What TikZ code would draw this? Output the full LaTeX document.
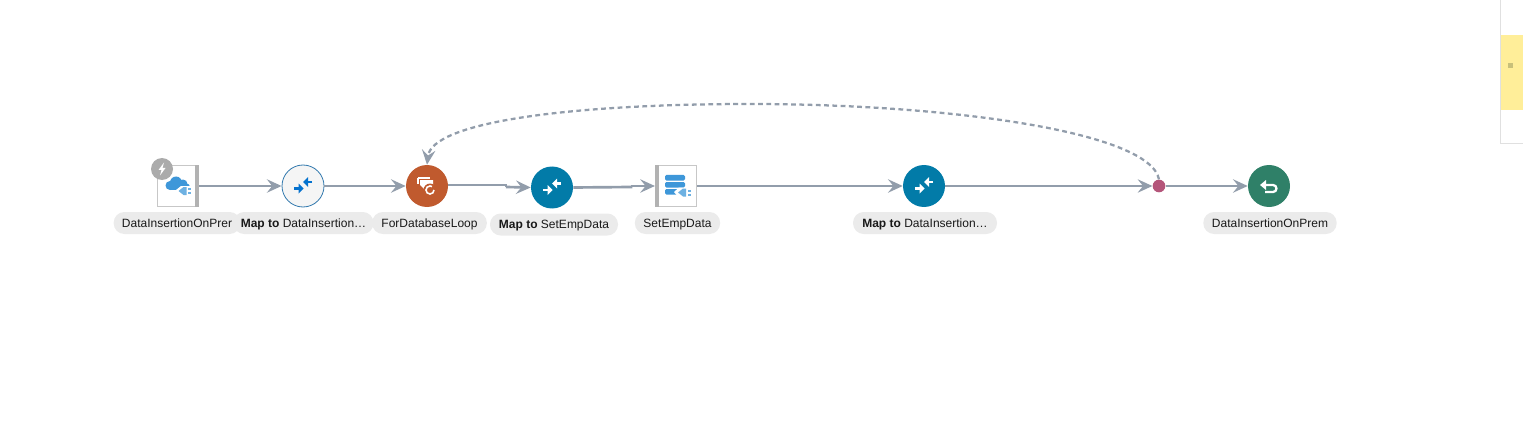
\documentclass[tikz,border=0pt]{standalone}
\usepackage{fontspec}
\setmainfont{Liberation Sans}
\usetikzlibrary{arrows.meta}

\definecolor{linegray}{HTML}{929DAB}
\definecolor{pillgray}{HTML}{EBEBEB}
\definecolor{mapblue}{HTML}{027BA8}
\definecolor{mapicon}{HTML}{0572CE}
\definecolor{iconblue}{HTML}{3E97D9}
\definecolor{loopred}{HTML}{C05A2E}
\definecolor{joinred}{HTML}{B4557A}
\definecolor{finishgreen}{HTML}{2F8068}

\tikzset{
  flowline/.style={line width=2pt, linegray, -{Stealth[inset=4pt,length=11pt,width=10pt]}},
  plainline/.style={line width=2pt, linegray},
  backline/.style={line width=1.7pt, linegray, dash pattern=on 3.6pt off 2.6pt, -{Stealth[inset=4pt,length=11pt,width=10pt]}},
  pill/.style={fill=pillgray, rounded corners=8pt, minimum height=16.5pt, inner sep=0pt, text height=8pt, text depth=1.5pt, font=\fontsize{9}{9}\selectfont, text=black!90},
  roundstep/.style={circle, minimum size=31.5pt, inner sep=0pt},
  boxstep/.style={rectangle, draw=black!22, fill=white, line width=0.6pt, minimum size=31pt, inner sep=0pt},
  mergeicon/.pic={
    \draw[#1, line width=1.7pt] (9,4) -- (3,4);
    \fill[#1] (0,4) -- (5,9) -- (5,-1) -- cycle;
    \draw[#1, line width=1.7pt] (-9,-2.5) -- (-3,-2.5);
    \fill[#1] (0.5,-2.5) -- (-4.5,2.5) -- (-4.5,-7.5) -- cycle;
  },
  plugicon/.pic={
    \fill[iconblue!75] (-6,0) -- (-1,-4) -- (2,-4) -- (2,4) -- (-1,4) -- cycle;
    \fill[iconblue!75] (3.5,-3) rectangle (6.5,-1);
    \fill[iconblue!75] (3.5,1) rectangle (6.5,3);
  },
}

\begin{document}
\begin{tikzpicture}[x=0.75pt,y=0.75pt,yscale=-1,xscale=1]
\useasboundingbox (0,0) rectangle (1523,431);

% side panel
\fill[fill={rgb,255:red,255;green,238;blue,153}] (1501,35) rectangle (1523,110);
\fill[fill={rgb,255:red,200;green,192;blue,122}] (1508,63) rectangle (1513,68);
\draw[black!12, line width=0.7pt] (1500,0) -- (1500,143) -- (1523,143);

% steps
\node[boxstep] (trigger) at (178,186) {};
\fill[black!30] (195,165) rectangle (199,207);
\node[roundstep, fill=black!4, draw=iconblue!80!black, line width=0.6pt] (mapfirst) at (303,186) {};
\node[roundstep, fill=loopred] (loop) at (427,186) {};
\node[roundstep, fill=mapblue] (mapemp) at (552,187.5) {};
\node[boxstep] (setemp) at (676,186) {};
\fill[black!30] (655,165) rectangle (659,207);
\node[roundstep, fill=mapblue] (maplast) at (924,186) {};
\node[circle, minimum size=9.5pt, inner sep=0pt, fill=joinred] (join) at (1159,186) {};
\node[roundstep, fill=finishgreen] (finish) at (1269,186) {};

% trigger icon
\fill[iconblue] (170,185.5) circle (4.5) (176,182.5) circle (6) (183,184) circle (4.5) (186.5,187) circle (3.5);
\fill[iconblue] (170,184) rectangle (186,190);
\fill[white] (176,190) -- (181,186) -- (193,186) -- (193,196) -- (181,196) -- cycle;
\pic at (184.5,191) {plugicon};
\fill[black!33] (162,169) circle (11);
\fill[white] (164,162.5) -- (158.5,170) -- (161.5,170) -- (160,175.5) -- (165.5,168) -- (162.5,168) -- cycle;

% icons
\pic at (303,186) {mergeicon=mapicon};
\pic at (552,187.5) {mergeicon=white};
\pic at (924,186) {mergeicon=white};

% loop icon
\draw[white, line width=0.8pt] (418,178) -- (430,178);
\draw[white, line width=0.8pt] (418,178) -- (418,184);
\fill[white] (420,180) -- (433,180) -- (433,190) -- (425,190) -- (420,185) -- cycle;
\fill[loopred] (430,190) circle (6.5);
\draw[white, line width=1.2pt] (434,190) arc (0:300:4);

% database icon
\fill[iconblue, rounded corners=1pt] (665,175) rectangle (685,180.5);
\fill[iconblue, rounded corners=1pt] (665,182) rectangle (685,187.5);
\fill[iconblue, rounded corners=1pt] (665,189) rectangle (685,194.5);
\fill[white] (674,192) -- (679,187.5) -- (692,187.5) -- (692,198) -- (679,198) -- cycle;
\pic at (684,192.5) {plugicon};

% return icon
\draw[white, line width=1.7pt] (1263,185) -- (1273,185) arc (-90:90:3.5) -- (1265,192);
\fill[white] (1260,185) -- (1266,180) -- (1266,190) -- cycle;

% labels
\node[pill, minimum width=95pt] (triggerlabel) at (177,223) {DataInsertionOnPrer};
\node[pill, minimum width=105pt] (mapfirstlabel) at (303.5,223) {\textbf{Map to} DataInsertion…};
\node[pill, minimum width=86pt] (looplabel) at (429.5,223) {ForDatabaseLoop};
\node[pill, minimum width=96pt] (mapemplabel) at (554,224.5) {\textbf{Map to} SetEmpData};
\node[pill, minimum width=64pt] (setemplabel) at (677.5,223) {SetEmpData};
\node[pill, minimum width=108pt] (maplastlabel) at (925,223) {\textbf{Map to} DataInsertion…};
\node[pill, minimum width=100pt] (finishlabel) at (1270,223) {DataInsertionOnPrem};

% jogs on the two short links
\coordinate (loopjog) at (506,185);
\coordinate (loopjogb) at (506,187);
\coordinate (empjog) at (631,187);
\coordinate (empjogb) at (631,186);

% links
\draw[flowline] (trigger.east -| 199,186) -- (mapfirst);
\draw[flowline] (mapfirst) -- (loop);
\draw[plainline] (loop.east |- loopjog) -- (loopjog) -- (loopjogb);
\draw[flowline] (loopjogb) -- (mapemp.west);
\draw[plainline] (mapemp.east) -- (empjog) -- (empjogb);
\draw[flowline] (empjogb) -- (setemp.west);
\draw[flowline] (setemp) -- (maplast);
\draw[flowline] (maplast) -- (join);
\draw[flowline] (join) -- (finish);

% loop back
\draw[backline] (join.north) .. controls (1150,132) and (950,104) .. (750,104) .. controls (570,104) and (432,122) .. (loop.north);

\end{tikzpicture}
\end{document}
